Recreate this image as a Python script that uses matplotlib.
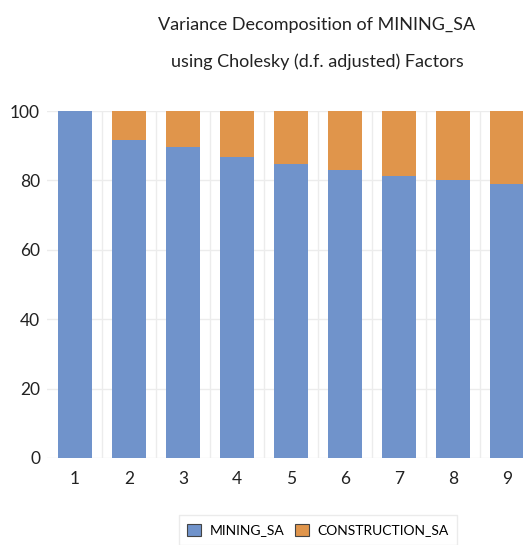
import matplotlib.pyplot as plt
from matplotlib.patches import Patch

periods = [1, 2, 3, 4, 5, 6, 7, 8, 9]
mining_sa = [100.0, 91.7, 89.5, 86.7, 84.6, 83.0, 81.3, 80.2, 79.0]
construction_sa = [100 - v for v in mining_sa]
series_names = ['MINING_SA', 'CONSTRUCTION_SA']
yticks = [0, 20, 40, 60, 80, 100]

blue = '#7093CB'
orange = '#E0954B'

plt.rcParams['font.family'] = ['Lato', 'DejaVu Sans']

fig = plt.figure(figsize=(5.23, 5.45), dpi=100)
ax = fig.add_axes([47 / 523, 1 - 458 / 545, 1 - 47 / 523, (458 - 111) / 545])

ax.bar(periods, mining_sa, width=0.63, color=blue, zorder=3)
ax.bar(periods, construction_sa, bottom=mining_sa, width=0.63, color=orange, zorder=3)

ax.set_xlim(0.48, 9.3)
ax.set_ylim(0, 100)
ax.set_yticks(yticks)
ax.set_xticks(periods)
ax.set_xticks([p + 0.5 for p in periods[:-1]], minor=True)

ax.grid(axis='y', color='#ececec', linewidth=1, zorder=0)
ax.grid(axis='x', which='minor', color='#ececec', linewidth=1, zorder=0)
for s in ax.spines.values():
    s.set_visible(False)
ax.tick_params(axis='both', which='both', length=0, labelsize=12.5, colors='#222222')
ax.tick_params(axis='x', pad=9)
ax.tick_params(axis='y', pad=5)

fig.text(0.606, 0.955, 'Variance Decomposition of MINING_SA', ha='center', va='center',
         fontsize=13, color='#222222')
fig.text(0.606, 0.886, 'using Cholesky (d.f. adjusted) Factors', ha='center', va='center',
         fontsize=13, color='#222222')

handles = [Patch(facecolor=blue, edgecolor='#444444', linewidth=0.8),
           Patch(facecolor=orange, edgecolor='#444444', linewidth=0.8)]
fig.legend(handles, series_names, loc='center', bbox_to_anchor=(318 / 523, 1 - 530 / 545),
           ncol=2, frameon=True, fancybox=False, edgecolor='#e6e6e6', fontsize=10,
           handlelength=1.0, handleheight=1.0, columnspacing=0.8, handletextpad=0.6,
           borderpad=0.6)

fig.savefig('out.png', dpi=100)
